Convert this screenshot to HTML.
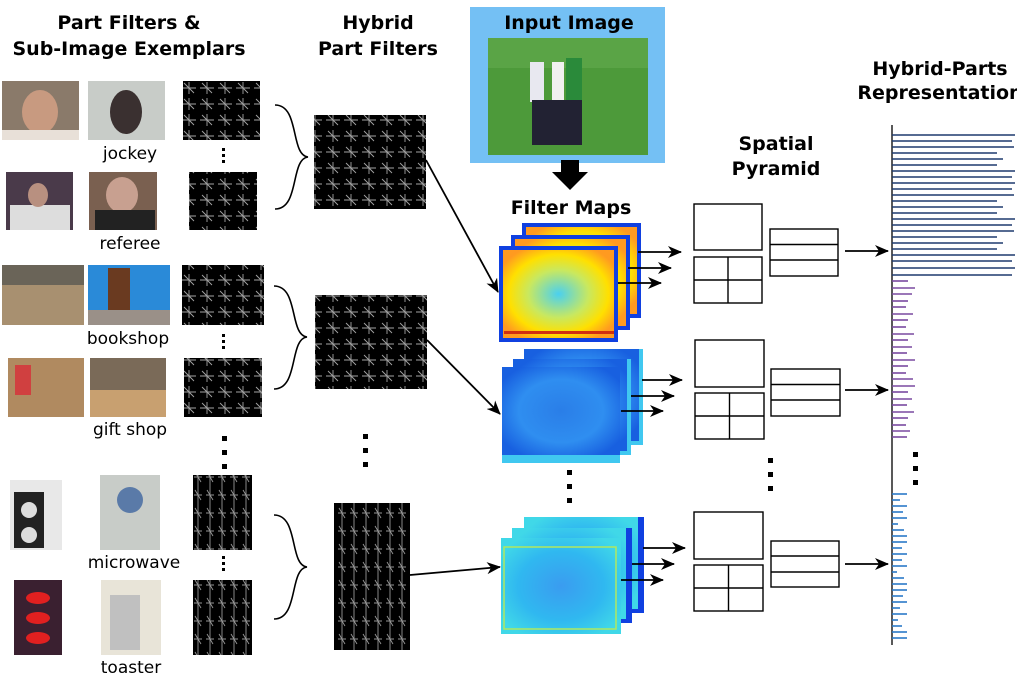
<!DOCTYPE html>
<html><head><meta charset="utf-8"><style>
html,body{margin:0;padding:0;background:#fff;width:1017px;height:690px;overflow:hidden}
svg{display:block}
text{font-family:"DejaVu Sans","Liberation Sans",sans-serif}
.h{font-weight:bold;font-size:19px;fill:#000}
.l{font-size:17px;fill:#000}
</style></head><body>
<svg width="1017" height="690" viewBox="0 0 1017 690" xmlns="http://www.w3.org/2000/svg">
<defs>
<pattern id="hog" width="18" height="16" patternUnits="userSpaceOnUse">
<rect width="18" height="16" fill="#000"/>
<path d="M2 8H16M9 2V14M4 3L14 13" stroke="#ccc" stroke-width="0.9" opacity="0.8"/>
</pattern>
<pattern id="hog2" width="12" height="18" patternUnits="userSpaceOnUse">
<rect width="12" height="18" fill="#000"/>
<path d="M6 0V18M2 9H10M3 4L9 14" stroke="#bbb" stroke-width="0.9" opacity="0.8"/>
</pattern>
<radialGradient id="warm" cx="50%" cy="50%" r="60%">
<stop offset="0" stop-color="#4ad0f0"/><stop offset="0.45" stop-color="#c8e860"/><stop offset="0.75" stop-color="#ffe000"/><stop offset="1" stop-color="#ff9a20"/>
</radialGradient>
<radialGradient id="cool" cx="50%" cy="50%" r="60%">
<stop offset="0" stop-color="#2a7ee8"/><stop offset="0.6" stop-color="#2f8ef0"/><stop offset="1" stop-color="#1860e0"/>
</radialGradient>
<radialGradient id="cyan" cx="50%" cy="50%" r="60%">
<stop offset="0" stop-color="#3a9cf0"/><stop offset="0.6" stop-color="#30b8f0"/><stop offset="1" stop-color="#40d8e8"/>
</radialGradient>
<marker id="ah" markerWidth="14" markerHeight="12" refX="13" refY="6" orient="auto" markerUnits="userSpaceOnUse">
<path d="M0 0L14 6L0 12L4 6Z" fill="#000"/>
</marker>
</defs>

<text class="h" x="129" y="29" text-anchor="middle">Part Filters &amp;</text>
<text class="h" x="129" y="55" text-anchor="middle">Sub-Image Exemplars</text>
<text class="h" x="378" y="29" text-anchor="middle">Hybrid</text>
<text class="h" x="378" y="55" text-anchor="middle">Part Filters</text>
<text class="h" x="776" y="150" text-anchor="middle">Spatial</text>
<text class="h" x="776" y="175" text-anchor="middle">Pyramid</text>
<text class="h" x="940" y="75" text-anchor="middle">Hybrid-Parts</text>
<text class="h" x="940" y="99" text-anchor="middle">Representation</text>

<rect x="2" y="81" width="77" height="59" fill="#8a7a6a"/><ellipse cx="40" cy="112" rx="18" ry="22" fill="#c89a80"/><rect x="2" y="130" width="77" height="10" fill="#e8e0d8"/>
<rect x="88" y="81" width="77" height="59" fill="#c8ccc8"/><ellipse cx="126" cy="112" rx="16" ry="22" fill="#3a3030"/>
<rect x="6" y="172" width="67" height="58" fill="#4a3a4a"/><rect x="10" y="205" width="60" height="25" fill="#ddd"/><ellipse cx="38" cy="195" rx="10" ry="12" fill="#b89080"/>
<rect x="89" y="172" width="68" height="58" fill="#7a6050"/><ellipse cx="122" cy="195" rx="16" ry="18" fill="#c8a090"/><rect x="95" y="210" width="60" height="20" fill="#222"/>
<rect x="2" y="265" width="82" height="60" fill="#a89070"/><rect x="2" y="265" width="82" height="20" fill="#6a6458"/>
<rect x="88" y="265" width="82" height="60" fill="#2a8ad8"/><rect x="108" y="268" width="22" height="42" fill="#6a3a20"/><rect x="88" y="310" width="82" height="15" fill="#9a9088"/>
<rect x="8" y="358" width="76" height="59" fill="#b08a60"/><rect x="15" y="365" width="16" height="30" fill="#d04040"/>
<rect x="90" y="358" width="76" height="59" fill="#7a6a58"/><rect x="90" y="390" width="76" height="27" fill="#c8a070"/>
<rect x="10" y="480" width="52" height="70" fill="#e8e8e8"/><rect x="14" y="492" width="30" height="56" fill="#222"/><circle cx="29" cy="510" r="8" fill="#ddd"/><circle cx="29" cy="535" r="8" fill="#ddd"/>
<rect x="100" y="475" width="60" height="75" fill="#c8ccc8"/><circle cx="130" cy="500" r="13" fill="#5a7aa8"/>
<rect x="14" y="580" width="48" height="75" fill="#3a2030"/><ellipse cx="38" cy="598" rx="12" ry="6" fill="#e02020"/><ellipse cx="38" cy="618" rx="12" ry="6" fill="#e02020"/><ellipse cx="38" cy="638" rx="12" ry="6" fill="#e02020"/>
<rect x="101" y="580" width="60" height="75" fill="#e8e4d8"/><rect x="110" y="595" width="30" height="55" fill="#c0c0c0"/>

<text class="l" x="130" y="159" text-anchor="middle">jockey</text>
<text class="l" x="130" y="249" text-anchor="middle">referee</text>
<text class="l" x="128" y="344" text-anchor="middle">bookshop</text>
<text class="l" x="130" y="435" text-anchor="middle">gift shop</text>
<text class="l" x="134" y="568" text-anchor="middle">microwave</text>
<text class="l" x="131" y="673" text-anchor="middle">toaster</text>

<rect x="183" y="81" width="77" height="59" fill="url(#hog)"/>
<rect x="189" y="172" width="68" height="58" fill="url(#hog)"/>
<rect x="182" y="265" width="82" height="60" fill="url(#hog)"/>
<rect x="184" y="358" width="78" height="59" fill="url(#hog)"/>
<rect x="193" y="475" width="59" height="75" fill="url(#hog2)"/>
<rect x="193" y="580" width="59" height="75" fill="url(#hog2)"/>
<g fill="#000">
<rect x="222" y="148" width="3" height="3"/><rect x="222" y="154" width="3" height="3"/><rect x="222" y="160" width="3" height="3"/>
<rect x="222" y="334" width="3" height="3"/><rect x="222" y="340" width="3" height="3"/><rect x="222" y="346" width="3" height="3"/>
<rect x="222" y="556" width="3" height="3"/><rect x="222" y="562" width="3" height="3"/><rect x="222" y="568" width="3" height="3"/>
<rect x="222" y="436" width="5" height="5"/><rect x="222" y="450" width="5" height="5"/><rect x="222" y="464" width="5" height="5"/>
<rect x="363" y="434" width="5" height="5"/><rect x="363" y="448" width="5" height="5"/><rect x="363" y="462" width="5" height="5"/>
<rect x="567" y="470" width="5" height="5"/><rect x="567" y="484" width="5" height="5"/><rect x="567" y="498" width="5" height="5"/>
<rect x="768" y="458" width="5" height="5"/><rect x="768" y="472" width="5" height="5"/><rect x="768" y="486" width="5" height="5"/>
<rect x="913" y="452" width="5" height="5"/><rect x="913" y="466" width="5" height="5"/><rect x="913" y="480" width="5" height="5"/>
</g>

<g fill="none" stroke="#000" stroke-width="1.6">
<path d="M275 105C300 105 290 155 308 157C290 159 300 209 275 209"/>
<path d="M274 286C299 286 289 335 307 337C289 339 299 389 274 389"/>
<path d="M274 515C299 515 289 565 307 567C289 569 299 619 274 619"/>
</g>

<rect x="314" y="115" width="112" height="94" fill="url(#hog)"/>
<rect x="315" y="295" width="112" height="94" fill="url(#hog)"/>
<rect x="334" y="503" width="76" height="147" fill="url(#hog2)"/>

<g stroke="#000" stroke-width="1.8" fill="none" marker-end="url(#ah)">
<line x1="426" y1="160" x2="498" y2="292"/>
<line x1="427" y1="340" x2="500" y2="414"/>
<line x1="410" y1="575" x2="500" y2="567"/>
</g>

<rect x="470" y="7" width="195" height="156" fill="#74c0f4"/>
<text class="h" x="569" y="29" text-anchor="middle">Input Image</text>
<rect x="488" y="38" width="160" height="117" fill="#4d9a3a"/>
<rect x="488" y="38" width="160" height="30" fill="#5aa446"/>
<rect x="530" y="62" width="14" height="40" fill="#e8e8f0"/><rect x="552" y="62" width="12" height="40" fill="#f0f0f0"/><rect x="566" y="58" width="16" height="42" fill="#2a8a3a"/>
<rect x="532" y="100" width="50" height="45" fill="#223"/>
<path d="M561 160H579V172H588L570 190L552 172H561Z" fill="#000"/>
<text class="h" x="571" y="214" text-anchor="middle">Filter Maps</text>

<g>
<rect x="522" y="223" width="119" height="95" fill="#1040e0"/><rect x="526" y="227" width="111" height="87" fill="url(#warm)"/>
<rect x="511" y="235" width="119" height="95" fill="#1040e0"/><rect x="515" y="239" width="111" height="87" fill="url(#warm)"/>
<rect x="499" y="246" width="119" height="96" fill="#1040e0"/><rect x="503" y="250" width="111" height="88" fill="url(#warm)"/>
<rect x="504" y="331" width="110" height="3" fill="#d03010"/>
</g>
<g>
<rect x="524" y="349" width="119" height="96" fill="#40c8f0"/><rect x="524" y="349" width="115" height="92" fill="url(#cool)"/>
<rect x="513" y="359" width="118" height="96" fill="#40c8f0"/><rect x="513" y="359" width="114" height="92" fill="url(#cool)"/>
<rect x="502" y="367" width="118" height="96" fill="#40c8f0"/><rect x="502" y="367" width="118" height="88" fill="url(#cool)"/>
</g>
<g>
<rect x="524" y="517" width="120" height="96" fill="#1040e0"/><rect x="524" y="517" width="114" height="92" fill="url(#cyan)"/>
<rect x="512" y="528" width="120" height="95" fill="#1040e0"/><rect x="512" y="528" width="114" height="91" fill="url(#cyan)"/>
<rect x="501" y="538" width="120" height="96" fill="url(#cyan)"/><rect x="504" y="547" width="112" height="82" fill="none" stroke="#b0e860" stroke-width="1.5"/>
</g>

<g stroke="#000" stroke-width="1.8" marker-end="url(#ah)">
<line x1="638" y1="252" x2="681" y2="252"/><line x1="628" y1="268" x2="671" y2="268"/><line x1="618" y1="283" x2="661" y2="283"/>
<line x1="642" y1="380" x2="682" y2="380"/><line x1="631" y1="396" x2="674" y2="396"/><line x1="621" y1="411" x2="663" y2="411"/>
<line x1="643" y1="548" x2="685" y2="548"/><line x1="632" y1="564" x2="674" y2="564"/><line x1="621" y1="580" x2="663" y2="580"/>
<line x1="845" y1="251" x2="888" y2="251"/>
<line x1="845" y1="390" x2="888" y2="390"/>
<line x1="845" y1="564" x2="888" y2="564"/>
</g>

<g fill="none" stroke="#000" stroke-width="1.4">
<rect x="694" y="204" width="68" height="46"/><rect x="694" y="257" width="68" height="46"/><path d="M728 257V303M694 280H762"/>
<rect x="770" y="229" width="68" height="47"/><path d="M770 244.5H838M770 260H838"/>
<rect x="695" y="340" width="69" height="47"/><rect x="695" y="393" width="69" height="46"/><path d="M729.5 393V439M695 416H764"/>
<rect x="771" y="369" width="69" height="47"/><path d="M771 384.5H840M771 400H840"/>
<rect x="694" y="512" width="69" height="47"/><rect x="694" y="565" width="69" height="46"/><path d="M728.5 565V611M694 588H763"/>
<rect x="771" y="541" width="68" height="46"/><path d="M771 556H839M771 572H839"/>
</g>

<line x1="892" y1="125" x2="892" y2="645" stroke="#222" stroke-width="1.5"/>
<g stroke="#1e3a6e" stroke-width="1.6">
<line x1="892" y1="135" x2="1015" y2="135"/><line x1="892" y1="141" x2="1012" y2="141"/><line x1="892" y1="147" x2="1014" y2="147"/><line x1="892" y1="153" x2="997" y2="153"/><line x1="892" y1="159" x2="1003" y2="159"/><line x1="892" y1="165" x2="997" y2="165"/><line x1="892" y1="171" x2="1015" y2="171"/><line x1="892" y1="177" x2="1012" y2="177"/><line x1="892" y1="183" x2="1015" y2="183"/><line x1="892" y1="189" x2="1012" y2="189"/><line x1="892" y1="195" x2="1014" y2="195"/><line x1="892" y1="201" x2="997" y2="201"/><line x1="892" y1="207" x2="1003" y2="207"/><line x1="892" y1="213" x2="997" y2="213"/><line x1="892" y1="219" x2="1015" y2="219"/><line x1="892" y1="225" x2="1012" y2="225"/><line x1="892" y1="231" x2="1014" y2="231"/><line x1="892" y1="237" x2="997" y2="237"/><line x1="892" y1="243" x2="1003" y2="243"/><line x1="892" y1="249" x2="997" y2="249"/><line x1="892" y1="255" x2="1015" y2="255"/><line x1="892" y1="261" x2="1012" y2="261"/><line x1="892" y1="268" x2="1015" y2="268"/><line x1="892" y1="275" x2="1012" y2="275"/>
</g>
<g stroke="#7a4aa0" stroke-width="1.6">
<line x1="892" y1="281" x2="908" y2="281"/><line x1="892" y1="288" x2="915" y2="288"/><line x1="892" y1="294" x2="912" y2="294"/><line x1="892" y1="301" x2="908" y2="301"/><line x1="892" y1="307" x2="906" y2="307"/><line x1="892" y1="314" x2="913" y2="314"/><line x1="892" y1="320" x2="908" y2="320"/><line x1="892" y1="327" x2="906" y2="327"/><line x1="892" y1="334" x2="914" y2="334"/><line x1="892" y1="340" x2="908" y2="340"/><line x1="892" y1="347" x2="912" y2="347"/><line x1="892" y1="353" x2="907" y2="353"/><line x1="892" y1="360" x2="915" y2="360"/><line x1="892" y1="366" x2="908" y2="366"/><line x1="892" y1="373" x2="906" y2="373"/><line x1="892" y1="379" x2="913" y2="379"/><line x1="892" y1="386" x2="915" y2="386"/><line x1="892" y1="392" x2="908" y2="392"/><line x1="892" y1="399" x2="912" y2="399"/><line x1="892" y1="405" x2="907" y2="405"/><line x1="892" y1="412" x2="914" y2="412"/><line x1="892" y1="418" x2="908" y2="418"/><line x1="892" y1="425" x2="906" y2="425"/><line x1="892" y1="431" x2="910" y2="431"/><line x1="892" y1="437" x2="907" y2="437"/>
</g>
<g stroke="#2a7ac8" stroke-width="1.6">
<line x1="892" y1="494" x2="907" y2="494"/><line x1="892" y1="500" x2="900" y2="500"/><line x1="892" y1="506" x2="907" y2="506"/><line x1="892" y1="512" x2="903" y2="512"/><line x1="892" y1="518" x2="907" y2="518"/><line x1="892" y1="524" x2="898" y2="524"/><line x1="892" y1="530" x2="904" y2="530"/><line x1="892" y1="536" x2="907" y2="536"/><line x1="892" y1="542" x2="907" y2="542"/><line x1="892" y1="548" x2="902" y2="548"/><line x1="892" y1="554" x2="907" y2="554"/><line x1="892" y1="560" x2="902" y2="560"/><line x1="892" y1="566" x2="907" y2="566"/><line x1="892" y1="572" x2="897" y2="572"/><line x1="892" y1="578" x2="904" y2="578"/><line x1="892" y1="584" x2="907" y2="584"/><line x1="892" y1="590" x2="907" y2="590"/><line x1="892" y1="596" x2="903" y2="596"/><line x1="892" y1="602" x2="907" y2="602"/><line x1="892" y1="608" x2="900" y2="608"/><line x1="892" y1="614" x2="907" y2="614"/><line x1="892" y1="620" x2="898" y2="620"/><line x1="892" y1="626" x2="902" y2="626"/><line x1="892" y1="632" x2="907" y2="632"/><line x1="892" y1="638" x2="907" y2="638"/>
</g>
</svg>
</body></html>
